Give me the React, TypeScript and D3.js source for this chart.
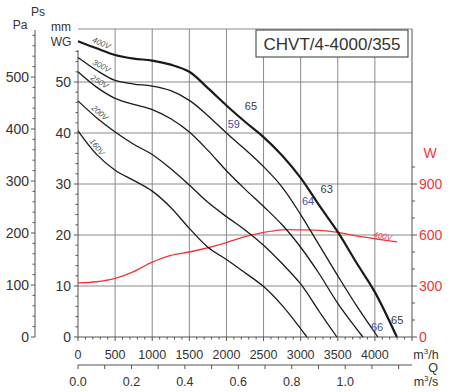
import React from "react";
import * as d3 from "d3";

// ---- data (Q in m3/h, static pressure in mm WG) ----
const curve400V: [number, number][] = [[0,58.0],[250,56.6],[500,55.3],[750,54.6],[1000,54.2],[1250,53.4],[1500,52.0],[1750,48.8],[2000,45.4],[2250,42.2],[2500,39.2],[2750,35.6],[3000,31.2],[3250,25.8],[3500,20.6],[3750,14.6],[4000,8.8],[4296,0]];
const curve300V: [number, number][] = [[0,54.8],[250,52.3],[500,50.3],[750,49.6],[1000,49.2],[1250,48.3],[1500,46.4],[1750,43.4],[2000,40.0],[2250,36.8],[2500,33.4],[2750,29.4],[3000,24.0],[3250,18.0],[3500,12.0],[3750,6.2],[4040,0]];
const curve250V: [number, number][] = [[0,52.0],[250,49.0],[500,46.8],[750,45.6],[1000,44.6],[1250,42.8],[1500,40.2],[1750,36.6],[2000,32.6],[2250,29.0],[2500,25.6],[2750,22.0],[3000,17.6],[3250,12.4],[3500,6.6],[3838,0]];
const curve200V: [number, number][] = [[0,46.3],[250,43.0],[500,40.2],[750,37.8],[1000,35.8],[1250,33.0],[1500,29.8],[1750,26.4],[2000,23.6],[2250,21.0],[2500,18.0],[2750,14.4],[3000,10.4],[3250,5.0],[3488,0]];
const curve160V: [number, number][] = [[0,40.4],[250,35.8],[500,32.7],[750,30.7],[1000,28.6],[1250,25.4],[1500,21.3],[1750,17.6],[2000,15.2],[2250,12.6],[2500,9.9],[2750,6.2],[3084,0]];
// absorbed power (W) at 400V
const power400V: [number, number][] = [[0,318],[250,325],[500,345],[750,385],[1000,440],[1250,480],[1500,500],[1750,525],[2000,555],[2250,590],[2500,615],[2750,630],[3000,630],[3250,627],[3500,615],[3750,595],[4000,578],[4300,560]];

const speedCurves = [
  { name: "400V", data: curve400V, thick: true, labelQ: 300, angle: 24 },
  { name: "300V", data: curve300V, thick: false, labelQ: 300, angle: 28 },
  { name: "250V", data: curve250V, thick: false, labelQ: 270, angle: 32 },
  { name: "200V", data: curve200V, thick: false, labelQ: 270, angle: 40 },
  { name: "160V", data: curve160V, thick: false, labelQ: 230, angle: 52 },
];

// efficiency / noise marks: [Q, mm, text, colour]
const noteQ = [2330, 2100, 3350, 3100, 4030, 4300];
const noteP = [44.5, 41.0, 28.2, 25.8, 1.2, 2.6];
const noteText = ["65", "59", "63", "64", "66", "65"];
const noteBlue = [false, true, false, true, true, false];

const qTicks = [0, 500, 1000, 1500, 2000, 2500, 3000, 3500, 4000];
const qsTicks = [0, 0.2, 0.4, 0.6, 0.8, 1.0];
const mmTicks = [0, 10, 20, 30, 40, 50];
const paTicks = [0, 100, 200, 300, 400, 500];
const wTicks = [0, 300, 600, 900];
const title = "CHVT/4-4000/355";

const W = 450, H = 392;
const L = 78, R = 412, B = 337, T = 29;

const x = d3.scaleLinear().domain([0, 4500]).range([L, R]);
const xs = d3.scaleLinear().domain([0, 1.25]).range([L, R]);
const ymm = d3.scaleLinear().domain([0, 50]).range([B, 82]);
const yPa = d3.scaleLinear().domain([0, 500]).range([B, 77]);
const yW = d3.scaleLinear().domain([0, 900]).range([B, 184]);

const FONT = "'Liberation Sans', Arial, Helvetica, sans-serif";
const NARROW = "'Liberation Sans Narrow', 'Arial Narrow', 'Liberation Sans', sans-serif";
const RED = "#f2353b";
const GRID = "#8a8a8a";
const TXT = "#333";

function interp(data: [number, number][], q: number) {
  for (let i = 1; i < data.length; i++) {
    if (q <= data[i][0]) {
      const [q0, p0] = data[i - 1];
      const [q1, p1] = data[i];
      return p0 + ((q - q0) / (q1 - q0)) * (p1 - p0);
    }
  }
  return data[data.length - 1][1];
}

export default function App() {
  const lineMM = d3
    .line<[number, number]>()
    .x((d) => x(d[0]))
    .y((d) => ymm(d[1]))
    .curve(d3.curveCatmullRom.alpha(0.5));
  const lineW = d3
    .line<[number, number]>()
    .x((d) => x(d[0]))
    .y((d) => yW(d[1]))
    .curve(d3.curveCatmullRom.alpha(0.5));

  const minorQ = d3.range(0, 4501, 100);
  const minorQs = d3.range(0, 1.2501, 0.1);
  const minorMM = d3.range(0, 57, 2);
  const minorPa = d3.range(0, 581, 20);
  const minorW = d3.range(0, 1001, 100);

  return (
    <svg
      width={W}
      height={H}
      style={{ position: "absolute", left: 0, top: 0, background: "#fff" }}
      fontFamily={FONT}
    >
      <rect x={0} y={0} width={W} height={H} fill="#fff" />
      {/* grid */}
      {qTicks.slice(1).map((q) => (
        <line key={"gv" + q} x1={x(q)} x2={x(q)} y1={T} y2={B} stroke={GRID} strokeWidth={1} />
      ))}
      {mmTicks.slice(1).map((m) => (
        <line key={"gh" + m} x1={L} x2={R} y1={ymm(m)} y2={ymm(m)} stroke={GRID} strokeWidth={1} />
      ))}
      {/* frame */}
      <line x1={L} x2={R} y1={T} y2={T} stroke={GRID} strokeWidth={1} />
      <line x1={R} x2={R} y1={T} y2={B} stroke="#555" strokeWidth={1} />
      <line x1={L} x2={L} y1={50} y2={B} stroke="#555" strokeWidth={1} />
      <line x1={L} x2={R} y1={B} y2={B} stroke="#555" strokeWidth={1} />

      {/* bottom axis m3/h */}
      {minorQ.map((q) => (
        <line key={"mq" + q} x1={x(q)} x2={x(q)} y1={B} y2={B + (q % 500 === 0 ? 4 : 2.5)} stroke="#555" strokeWidth={1} />
      ))}
      {qTicks.map((q) => (
        <text key={"lq" + q} x={x(q)} y={359} fontSize={12.5} textAnchor="middle" fill={TXT}>
          {q}
        </text>
      ))}
      <text x={426} y={359} fontSize={12.5} textAnchor="middle" fill={TXT}>
        m<tspan fontSize={8} dy={-5}>3</tspan><tspan dy={5}>/h</tspan>
      </text>

      {/* second axis m3/s */}
      <line x1={L} x2={R} y1={365} y2={365} stroke="#555" strokeWidth={1} />
      {minorQs.map((q, i) => (
        <line key={"mqs" + i} x1={xs(q)} x2={xs(q)} y1={365} y2={369} stroke="#555" strokeWidth={1} />
      ))}
      {qsTicks.map((q) => (
        <text key={"lqs" + q} x={xs(q)} y={386} fontSize={12.5} textAnchor="middle" fill={TXT}>
          {q.toFixed(1)}
        </text>
      ))}
      <text x={433} y={372} fontSize={12.5} textAnchor="middle" fill={TXT}>Q</text>
      <text x={426} y={386} fontSize={12.5} textAnchor="middle" fill={TXT}>
        m<tspan fontSize={8} dy={-5}>3</tspan><tspan dy={5}>/s</tspan>
      </text>

      {/* mm WG axis */}
      {minorMM.map((m) => (
        <line key={"mm" + m} x1={L - (m % 10 === 0 ? 4 : 2.5)} x2={L} y1={ymm(m)} y2={ymm(m)} stroke="#555" strokeWidth={1} />
      ))}
      {mmTicks.map((m) => (
        <text key={"lmm" + m} x={71} y={ymm(m) + 5} fontSize={14} textAnchor="end" fill={TXT}>
          {m}
        </text>
      ))}
      <text x={61} y={31} fontSize={12} textAnchor="middle" fill={TXT} fontFamily={NARROW}>mm</text>
      <text x={61} y={46} fontSize={12} textAnchor="middle" fill={TXT} fontFamily={NARROW}>WG</text>

      {/* Pa axis */}
      <line x1={35} x2={35} y1={30} y2={B} stroke="#555" strokeWidth={1} />
      {minorPa.map((p) => (
        <line key={"mp" + p} x1={35 - (p % 100 === 0 ? 4 : 2.5)} x2={35} y1={yPa(p)} y2={yPa(p)} stroke="#555" strokeWidth={1} />
      ))}
      {paTicks.map((p) => (
        <text key={"lp" + p} x={29} y={yPa(p) + 5} fontSize={14} textAnchor="end" fill={TXT}>
          {p}
        </text>
      ))}
      <text x={20} y={29} fontSize={12} textAnchor="middle" fill={TXT} fontFamily={NARROW}>Pa</text>
      <text x={38} y={16} fontSize={12} textAnchor="middle" fill={TXT} fontFamily={NARROW}>Ps</text>

      {/* W axis */}
      {minorW.map((w) => (
        <line key={"mw" + w} x1={R} x2={R + (w % 300 === 0 ? 5 : 3)} y1={yW(w)} y2={yW(w)} stroke="#555" strokeWidth={1} />
      ))}
      {wTicks.map((w) => (
        <text key={"lw" + w} x={419} y={yW(w) + 5} fontSize={14} textAnchor="start" fill={RED}>
          {w}
        </text>
      ))}
      <text x={430} y={158} fontSize={14} textAnchor="middle" fill={RED}>W</text>

      {/* power curve */}
      <path d={lineW(power400V) || ""} fill="none" stroke={RED} strokeWidth={1.3} />
      <text
        x={x(4100)}
        y={yW(578)}
        fontSize={8}
        fill={RED}
        fontStyle="italic"
        textAnchor="middle"
        transform={`rotate(10 ${x(4100)} ${yW(578)})`}
      >
        400V
      </text>

      {/* pressure curves */}
      {speedCurves.map((c) => (
        <path
          key={c.name}
          d={lineMM(c.data) || ""}
          fill="none"
          stroke="#1a1a1a"
          strokeWidth={c.thick ? 2.2 : 1.3}
        />
      ))}
      {speedCurves.map((c) => {
        const lx = x(c.labelQ);
        const ly = ymm(interp(c.data, c.labelQ)) - 4;
        return (
          <text
            key={"l" + c.name}
            x={lx}
            y={ly}
            fontSize={8}
            fill="#555"
            fontStyle="italic"
            textAnchor="middle"
            transform={`rotate(${c.angle} ${lx} ${ly})`}
          >
            {c.name}
          </text>
        );
      })}

      {/* notes */}
      {noteText.map((t, i) => (
        <text
          key={"n" + i}
          x={x(noteQ[i])}
          y={ymm(noteP[i])}
          fontSize={11}
          textAnchor="middle"
          fill={noteBlue[i] ? "#4b4ba8" : "#3a3a3a"}
        >
          {t}
        </text>
      ))}

      {/* title */}
      <rect x={256} y={30} width={152} height={27} fill="#fff" stroke="#333" strokeWidth={1} />
      <text x={332} y={50} fontSize={17} textAnchor="middle" fill={TXT}>
        {title}
      </text>
    </svg>
  );
}
